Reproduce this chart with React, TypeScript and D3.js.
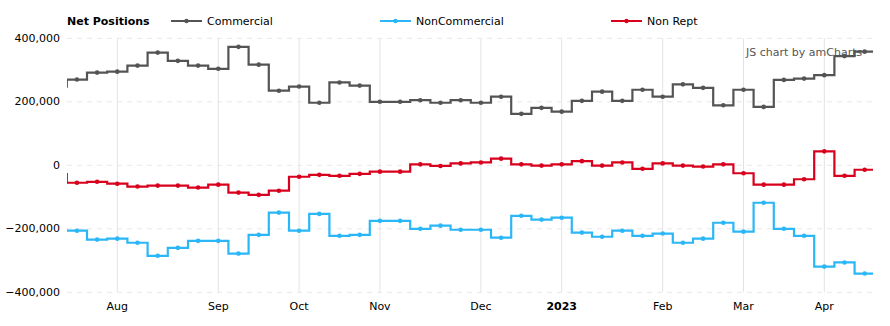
import React from "react";
import * as d3 from "d3";

const dates: string[] = [
  "2022-07-12",
  "2022-07-19", "2022-07-26", "2022-08-02", "2022-08-09", "2022-08-16", "2022-08-23", "2022-08-30",
  "2022-09-06", "2022-09-13", "2022-09-20", "2022-09-27", "2022-10-04", "2022-10-11", "2022-10-18",
  "2022-10-25", "2022-11-01", "2022-11-08", "2022-11-15", "2022-11-22", "2022-11-29", "2022-12-06",
  "2022-12-13", "2022-12-20", "2022-12-27", "2023-01-03", "2023-01-10", "2023-01-17", "2023-01-24",
  "2023-01-31", "2023-02-07", "2023-02-14", "2023-02-21", "2023-02-28", "2023-03-07", "2023-03-14",
  "2023-03-21", "2023-03-28", "2023-04-04", "2023-04-11", "2023-04-18",
];

const commercial: number[] = [
  248000,
  270000, 292000, 295000, 314000, 355000, 329000, 314000, 304000, 373000, 317000,
  235000, 248000, 197000, 261000, 251000, 200000, 200000, 205000, 197000, 205000,
  197000, 216000, 162000, 181000, 169000, 203000, 232000, 203000, 238000, 216000,
  255000, 244000, 189000, 238000, 184000, 269000, 273000, 284000, 344000, 358000,
];

const nonCommercial: number[] = [
  -205000,
  -206000, -234000, -231000, -244000, -285000, -260000, -238000, -238000, -278000, -219000,
  -149000, -206000, -153000, -222000, -219000, -175000, -175000, -200000, -190000, -203000,
  -203000, -228000, -159000, -171000, -165000, -212000, -225000, -206000, -222000, -215000,
  -244000, -231000, -181000, -209000, -118000, -200000, -222000, -319000, -306000, -341000,
];

const nonRept: number[] = [
  -28000,
  -55000, -52000, -58000, -67000, -64000, -64000, -70000, -61000, -86000, -93000,
  -80000, -36000, -30000, -33000, -27000, -20000, -20000, 3000, -2000, 6000,
  9000, 21000, 3000, -1000, 3000, 13000, -1000, 9000, -11000, 6000,
  -1000, -4000, 3000, -25000, -61000, -61000, -44000, 44000, -33000, -14000,
];

const yTicks: number[] = [400000, 200000, 0, -200000, -400000];
const monthNames: string[] = ["Jan", "Feb", "Mar", "Apr", "May", "Jun", "Jul", "Aug", "Sep", "Oct", "Nov", "Dec"];

const seriesNames = ["Commercial", "NonCommercial", "Non Rept"];
const seriesColors = ["#545454", "#2bb7f7", "#d8001c"];
const seriesData = [commercial, nonCommercial, nonRept];

const W = 890;
const H = 326;
const plotLeft = 67;
const plotRight = 873;
const plotTop = 38.3;
const plotBottom = 292.3;
const FONT = "'DejaVu Sans', Verdana, sans-serif";

export default function App() {
  const parsed = dates.map((d) => d3.utcParse("%Y-%m-%d")(d) as Date);
  const nVisible = dates.length - 1;
  // index -1 is the clipped previous week; cells are weekly
  const x = d3.scaleLinear().domain([0, nVisible]).range([66.8, 66.8 + nVisible * 20.2]);
  const y = d3.scaleLinear().domain([-400000, 400000]).range([plotBottom, plotTop]);

  const cx = (i: number) => x(i - 1 + 0.5);

  const ticks: { i: number; label: string; bold: boolean }[] = [];
  for (let i = 1; i < parsed.length; i++) {
    const m = parsed[i].getUTCMonth();
    if (m !== parsed[i - 1].getUTCMonth()) {
      ticks.push({
        i,
        label: m === 0 ? String(parsed[i].getUTCFullYear()) : monthNames[m],
        bold: m === 0,
      });
    }
  }

  const line = d3
    .line<[number, number]>()
    .x((d) => d[0])
    .y((d) => d[1])
    .curve(d3.curveStep);

  const fmt = d3.format(",");

  const legendX = [171, 380, 611];

  return (
    <svg
      width={W}
      height={H}
      style={{ position: "fixed", left: 0, top: 0, background: "#fff" }}
      fontFamily={FONT}
    >
      <defs>
        <clipPath id="plotclip">
          <rect x={plotLeft} y={0} width={plotRight - plotLeft} height={H} />
        </clipPath>
      </defs>

      {/* vertical grid */}
      {ticks.map((t) => (
        <line
          key={"vg" + t.i}
          x1={cx(t.i)}
          x2={cx(t.i)}
          y1={plotTop}
          y2={plotBottom}
          stroke="#e3e3e3"
          strokeWidth={1}
        />
      ))}
      {/* horizontal grid */}
      {yTicks.map((v) => (
        <line
          key={"hg" + v}
          x1={plotLeft}
          x2={plotRight - 1}
          y1={y(v)}
          y2={y(v)}
          stroke="#e8e8e8"
          strokeWidth={1}
          strokeDasharray="5,5"
        />
      ))}

      {/* y labels */}
      {yTicks.map((v) => (
        <text
          key={"yl" + v}
          x={60}
          y={y(v)}
          textAnchor="end"
          dominantBaseline="central"
          fontSize={11}
          fill="#000"
        >
          {fmt(v)}
        </text>
      ))}

      {/* x labels */}
      {ticks.map((t) => (
        <text
          key={"xl" + t.i}
          x={cx(t.i)}
          y={306}
          textAnchor="middle"
          dominantBaseline="central"
          fontSize={11}
          fontWeight={t.bold ? "bold" : "normal"}
          fill="#000"
        >
          {t.label}
        </text>
      ))}

      <text x={746} y={52} dominantBaseline="central" fontSize={11} fill="#555">
        JS chart by amCharts
      </text>

      <g clipPath="url(#plotclip)">
        {seriesData.map((vals, s) => {
          const pts: [number, number][] = vals.map((v, i) => [cx(i), y(v)]);
          pts.push([cx(vals.length), y(vals[vals.length - 1])]);
          return (
            <g key={"s" + s}>
              <path
                d={line(pts) || ""}
                fill="none"
                stroke={seriesColors[s]}
                strokeWidth={2.2}
                strokeLinejoin="miter"
              />
              {vals.map((v, i) =>
                i === 0 ? null : (
                  <circle key={i} cx={cx(i)} cy={y(v)} r={2.3} fill={seriesColors[s]} />
                )
              )}
            </g>
          );
        })}
      </g>

      {/* legend */}
      <text x={67} y={21} dominantBaseline="central" fontSize={11} fontWeight="bold" fill="#000">
        Net Positions
      </text>
      {seriesNames.map((name, s) => (
        <g key={"lg" + s}>
          <line
            x1={legendX[s]}
            x2={legendX[s] + 31}
            y1={21}
            y2={21}
            stroke={seriesColors[s]}
            strokeWidth={2}
          />
          <circle cx={legendX[s] + 15.5} cy={21} r={2.2} fill={seriesColors[s]} />
          <text x={legendX[s] + 36} y={21} dominantBaseline="central" fontSize={11} fill="#000">
            {name}
          </text>
        </g>
      ))}
    </svg>
  );
}
